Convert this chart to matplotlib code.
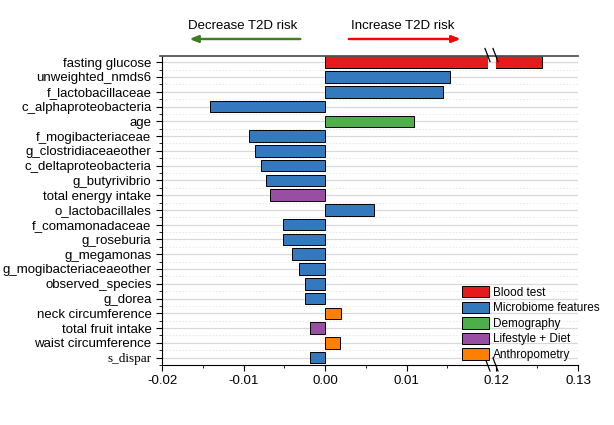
import matplotlib.pyplot as plt
from matplotlib.lines import Line2D
from matplotlib.patches import Patch
import numpy as np

plt.rcParams['font.family'] = ['Liberation Sans', 'DejaVu Sans']

features = ['fasting glucose', 'unweighted_nmds6', 'f_lactobacillaceae',
            'c_alphaproteobacteria', 'age', 'f_mogibacteriaceae',
            'g_clostridiaceaeother', 'c_deltaproteobacteria', 'g_butyrivibrio',
            'total energy intake', 'o_lactobacillales', 'f_comamonadaceae',
            'g_roseburia', 'g_megamonas', 'g_mogibacteriaceaeother',
            'observed_species', 'g_dorea', 'neck circumference',
            'total fruit intake', 'waist circumference', 's_dispar']
effects = [0.1256, 0.0153, 0.0145, -0.0141, 0.0109, -0.0093, -0.0086,
           -0.0078, -0.0073, -0.0068, 0.0060, -0.0052, -0.0051, -0.0040,
           -0.0032, -0.0025, -0.0024, 0.0020, -0.0019, 0.0019, -0.0018]
groups = ['Blood test', 'Microbiome features', 'Microbiome features',
          'Microbiome features', 'Demography', 'Microbiome features',
          'Microbiome features', 'Microbiome features', 'Microbiome features',
          'Lifestyle + Diet', 'Microbiome features', 'Microbiome features',
          'Microbiome features', 'Microbiome features', 'Microbiome features',
          'Microbiome features', 'Microbiome features', 'Anthropometry',
          'Lifestyle + Diet', 'Anthropometry', 'Microbiome features']

group_names = ['Blood test', 'Microbiome features', 'Demography',
               'Lifestyle + Diet', 'Anthropometry']
group_colors = {'Blood test': '#e41a1c', 'Microbiome features': '#3478bd',
                'Demography': '#4dae4a', 'Lifestyle + Diet': '#984ea3',
                'Anthropometry': '#ff7f00'}

fig = plt.figure(figsize=(6.14, 4.25), dpi=100)
W, H = 614, 425
top, bot = 56, 365
ax1 = fig.add_axes([162 / W, 1 - bot / H, (488 - 162) / W, (bot - top) / H])
axg = fig.add_axes([488 / W, 1 - bot / H, (496 - 488) / W, (bot - top) / H])
ax2 = fig.add_axes([496 / W, 1 - bot / H, (578 - 496) / W, (bot - top) / H])

y = np.arange(len(features))
colors = [group_colors[g] for g in groups]
fs = 9.5

for ax in (ax1, axg, ax2):
    ax.set_ylim(len(features) - 0.5, -0.42)
    ax.set_yticks(y)
    ax.set_yticks(y + 0.5, minor=True)
    ax.grid(axis='y', which='major', color='#d9d9d9', linewidth=0.9, zorder=0)
    ax.grid(axis='y', which='minor', color='#e6e6e6', linewidth=0.6,
            linestyle=(0, (2, 2)), zorder=0)
    for s in ['right', 'top']:
        ax.spines[s].set_visible(False)

for ax in (ax1, ax2):
    ax.barh(y, effects, height=0.78, color=colors, edgecolor='black',
            linewidth=0.7, zorder=3)
    ax.tick_params(axis='x', labelsize=fs, direction='out', length=4)
    ax.tick_params(axis='x', which='minor', direction='out', length=2.5)

axg.spines['left'].set_visible(False)
axg.set_xticks([])
axg.tick_params(axis='y', which='both', left=False, labelleft=False)

ax1.set_xlim(-0.02, 0.02)
ax1.set_xticks([-0.02, -0.01, 0.0, 0.01])
ax1.set_xticklabels(['-0.02', '-0.01', '0.00', '0.01'])
ax1.set_xticks([-0.015, -0.005, 0.005, 0.015], minor=True)
ax1.set_yticklabels(features, fontsize=fs)
ax1.tick_params(axis='y', which='major', length=4)
ax1.tick_params(axis='y', which='minor', length=2)
ax1.get_yticklabels()[-1].set_family(['Liberation Serif', 'DejaVu Serif'])

ax2.set_xlim(0.12, 0.13)
ax2.set_xticks([0.12, 0.13])
ax2.set_xticklabels(['0.12', '0.13'])
ax2.set_xticks([0.125], minor=True)
ax2.spines['left'].set_visible(False)
ax2.tick_params(axis='y', which='both', left=False, labelleft=False)

# top spine across both panels
yt = 1 - 55.5 / H
fig.add_artist(Line2D([160 / W, 578 / W], [yt, yt], color='#555555', linewidth=1.3))
# break marks
for x0 in (485, 493):
    for yc in (55.5, bot):
        fig.add_artist(Line2D([x0 / W, (x0 + 5) / W],
                              [1 - (yc - 7) / H, 1 - (yc + 6) / H],
                              color='black', linewidth=0.9))

# direction arrows
fig.text(243 / W, 1 - 26 / H, 'Decrease T2D risk', ha='center', va='center', fontsize=fs)
fig.text(403 / W, 1 - 26 / H, 'Increase T2D risk', ha='center', va='center', fontsize=fs)
fig.add_artist(plt.annotate('', xy=(187 / W, 1 - 39 / H), xytext=(303 / W, 1 - 39 / H),
                            xycoords='figure fraction',
                            arrowprops=dict(arrowstyle='-|>,head_length=0.5,head_width=0.2',
                                            color='#3f7f22', linewidth=1.6)))
fig.add_artist(plt.annotate('', xy=(463 / W, 1 - 39 / H), xytext=(346 / W, 1 - 39 / H),
                            xycoords='figure fraction',
                            arrowprops=dict(arrowstyle='-|>,head_length=0.5,head_width=0.2',
                                            color='#ff0000', linewidth=1.6)))

handles = [Patch(facecolor=group_colors[g], edgecolor='black', linewidth=0.7)
           for g in group_names]
fig.legend(handles, group_names, loc='upper left',
           bbox_to_anchor=(456 / W, 1 - 280 / H), frameon=False, fontsize=8.5,
           handlelength=2.3, handleheight=1.1, handletextpad=0.3,
           labelspacing=0.25, borderpad=0)

fig.savefig('out.png', dpi=100)
